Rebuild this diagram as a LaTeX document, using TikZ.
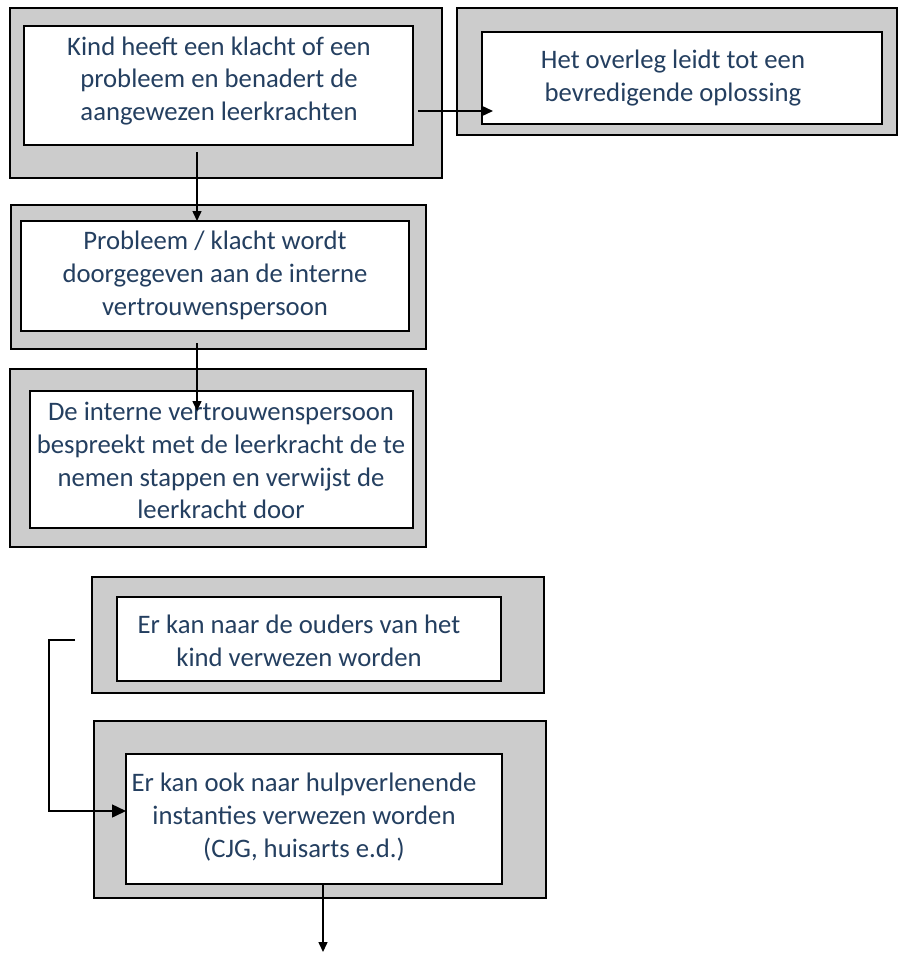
\documentclass[tikz,border=0pt]{standalone}
\usepackage{fontspec}
\setmainfont{Carlito}
\usetikzlibrary{arrows.meta}
\definecolor{txtblue}{RGB}{36,63,96}
\definecolor{boxgray}{RGB}{204,204,204}
\begin{document}
\begin{tikzpicture}[x=1bp,y=-1bp,
 outbox/.style={draw=black,line width=2bp,fill=boxgray,rectangle,inner sep=0pt,outer sep=0pt},
 inbox/.style={draw=black,line width=2bp,fill=white,rectangle,inner sep=0pt,outer sep=0pt},
 txt/.style={text=txtblue,align=center,font=\fontsize{26.8}{33}\selectfont,inner sep=0pt},
 arr/.style={line width=1.5bp,-{Triangle[length=10bp,width=9bp]}},
 bigarr/.style={line width=1.5bp,-{Triangle[length=14bp,width=13bp]}},
]
\useasboundingbox (0,0) rectangle (898,954);
% box 1
\node[outbox,minimum width=432bp,minimum height=170bp] (o1) at (226,93) {};
\node[inbox,minimum width=389bp,minimum height=119bp] (b1) at (218.5,85.5) {};
\node[txt] (t1) at (219,81) {Kind heeft een klacht of een\\probleem en benadert de\\aangewezen leerkrachten};
% box 2
\node[outbox,minimum width=440bp,minimum height=127bp] (o2) at (677,71.5) {};
\node[inbox,minimum width=400bp,minimum height=92bp] (b2) at (682,78) {};
\node[txt] (t2) at (673,78) {Het overleg leidt tot een\\bevredigende oplossing};
% box 3
\node[outbox,minimum width=415bp,minimum height=144bp] (o3) at (218.5,277) {};
\node[inbox,minimum width=388bp,minimum height=110bp] (b3) at (215,276) {};
\node[txt] (t3) at (215,275) {Probleem / klacht wordt\\doorgegeven aan de interne\\vertrouwenspersoon};
% box 4
\node[outbox,minimum width=416bp,minimum height=178bp] (o4) at (218,458) {};
\node[inbox,minimum width=383bp,minimum height=137bp] (b4) at (221.5,459.5) {};
\node[txt] (t4) at (221,460.5) {De interne vertrouwenspersoon\\bespreekt met de leerkracht de te\\nemen stappen en verwijst de\\leerkracht door};
% box 5
\node[outbox,minimum width=452bp,minimum height=116bp] (o5) at (318,635) {};
\node[inbox,minimum width=384bp,minimum height=84bp] (b5) at (309,639) {};
\node[txt] (t5) at (299,641) {Er kan naar de ouders van het\\kind verwezen worden};
% box 6
\node[outbox,minimum width=452bp,minimum height=177bp] (o6) at (320,809.5) {};
\node[inbox,minimum width=376bp,minimum height=130bp] (b6) at (314,819) {};
\node[txt] (t6) at (304,817) {Er kan ook naar hulpverlenende\\instanties verwezen worden\\(CJG, huisarts e.d.)};
% connectors
\coordinate (s1) at (418,111);
\coordinate (e1) at (493,111);
\draw[arr] (s1) -- (e1);
\coordinate (s2) at (197,152);
\draw[arr] (s2) -- (s2 |- b3.north);
\coordinate (s3) at (197,343);
\coordinate (e3) at (197,411);
\draw[arr] (s3) -- (e3);
\coordinate (s4) at (75,640);
\coordinate (k4) at (49,640);
\coordinate (e4) at (126,811);
\draw[bigarr] (s4) -- (k4) |- (e4);
\coordinate (s5) at (323,884);
\coordinate (e5) at (323,952);
\draw[arr] (s5) -- (e5);
\end{tikzpicture}
\end{document}
